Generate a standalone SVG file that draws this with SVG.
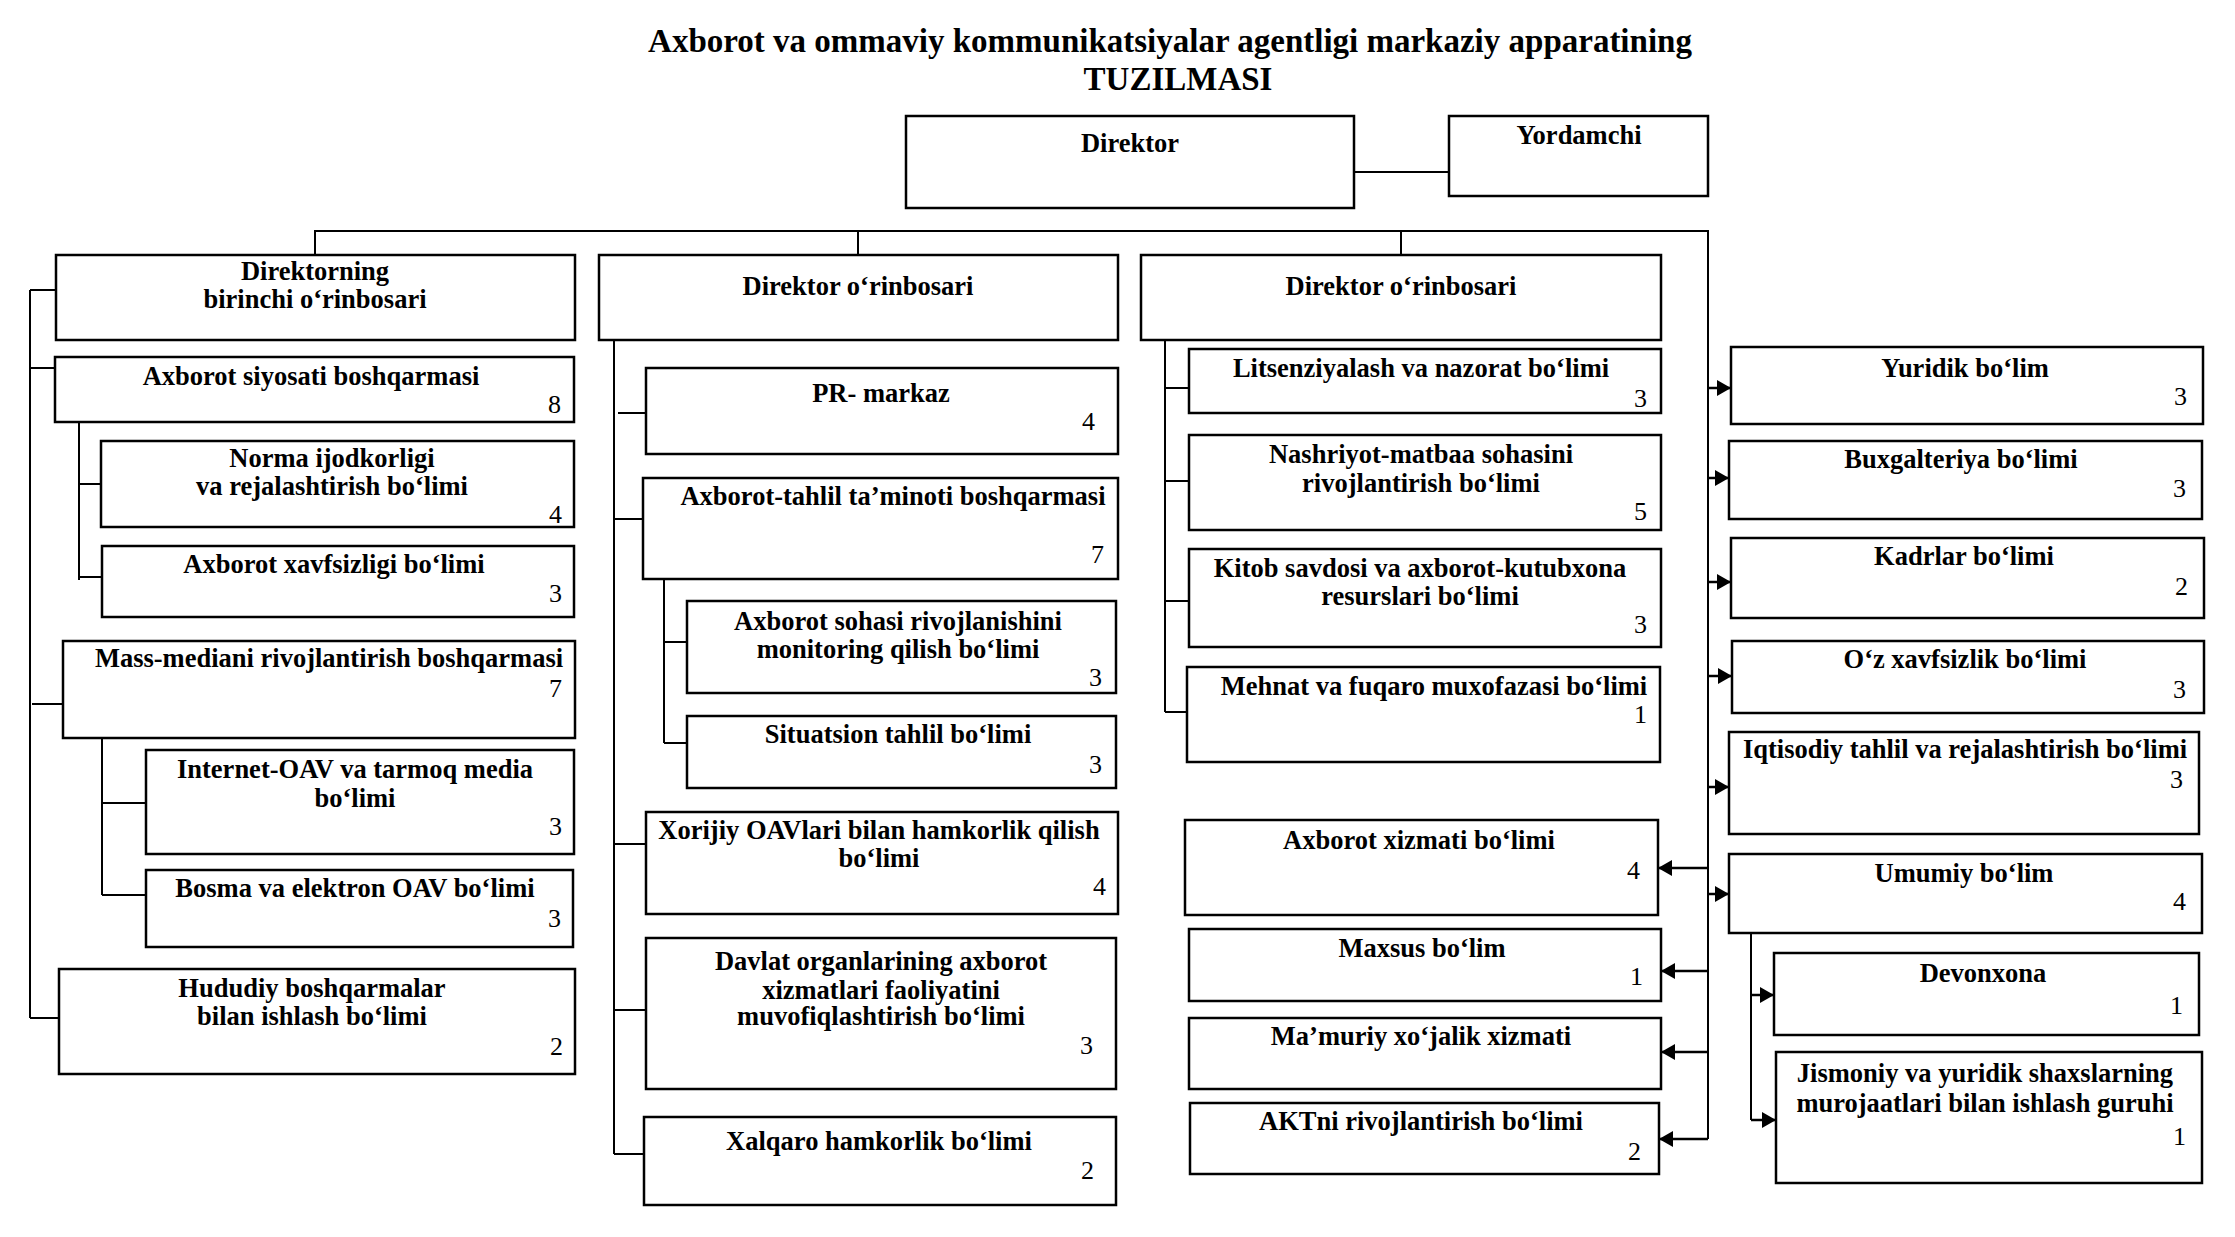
<svg xmlns="http://www.w3.org/2000/svg" width="2235" height="1237" viewBox="0 0 2235 1237">
<style>
  .bg{fill:#fff}
  .box{fill:#fff;stroke:#000;stroke-width:2.5}
  .t{font-family:"Liberation Serif","Times New Roman",serif;font-weight:bold;font-size:26.5px;text-anchor:middle;fill:#000}
  .n{font-family:"Liberation Serif","Times New Roman",serif;font-size:26px;text-anchor:end;fill:#000}
  .title{font-family:"Liberation Serif","Times New Roman",serif;font-weight:bold;font-size:33px;text-anchor:middle;fill:#000}
  .c{fill:none;stroke:#000;stroke-width:2}
  .a{fill:none;stroke:#000;stroke-width:2.5;marker-end:url(#ah)}
</style>
<defs>
  <marker id="ah" markerUnits="userSpaceOnUse" markerWidth="14" markerHeight="16" refX="14" refY="8" orient="auto">
    <path d="M0,0 L14,8 L0,16 Z" fill="#000"/>
  </marker>
</defs>
<rect class="bg" x="0" y="0" width="2235" height="1237"/>
<g id="title">
  <text class="title" x="1170" y="52">Axborot va ommaviy kommunikatsiyalar agentligi markaziy apparatining</text>
  <text class="title" x="1178" y="90">TUZILMASI</text>
</g>
<g id="connectors">
  <path class="c" d="M1354,172 H1449"/>
  <path class="c" d="M315,255 V231 H1708 V1139"/>
  <path class="c" d="M858,231 V255 M1401,231 V255"/>
  <path class="c" d="M30,290 V1018 M30,290 H56 M30,368 H55 M32,704 H63 M30,1018 H59"/>
  <path class="c" d="M79,422 V580 M79,484 H101 M79,577 H102"/>
  <path class="c" d="M102,738 V895 M102,803 H146 M102,895 H146"/>
  <path class="c" d="M614,340 V1154 M618,413 H646 M614,519 H643 M614,844 H646 M614,1010 H646 M614,1154 H644"/>
  <path class="c" d="M664,579 V743 M664,642 H687 M664,743 H687"/>
  <path class="c" d="M1165,340 V712 M1165,388 H1189 M1165,481 H1189 M1165,601 H1189 M1165,712 H1187"/>
  <path class="c" d="M1751,933 V1120"/>
  <path class="a" d="M1708,388 H1731"/>
  <path class="a" d="M1708,478 H1729"/>
  <path class="a" d="M1708,582 H1731"/>
  <path class="a" d="M1708,676 H1732"/>
  <path class="a" d="M1708,787 H1729"/>
  <path class="a" d="M1708,894 H1729"/>
  <path class="a" d="M1751,995 H1774"/>
  <path class="a" d="M1751,1120 H1776"/>
  <path class="a" d="M1708,868 H1658"/>
  <path class="a" d="M1708,971 H1661"/>
  <path class="a" d="M1708,1052 H1661"/>
  <path class="a" d="M1708,1139 H1659"/>
</g>
<g id="direktor"><rect class="box" x="906" y="116" width="448" height="92"/><text class="t" x="1130" y="152">Direktor</text></g>
<g id="yordamchi"><rect class="box" x="1449" y="116" width="259" height="80"/><text class="t" x="1579" y="144">Yordamchi</text></g>
<g id="dir-birinchi"><rect class="box" x="56" y="255" width="519" height="85"/><text class="t" x="315" y="280">Direktorning</text><text class="t" x="315" y="308">birinchi o‘rinbosari</text></g>
<g id="dir-orinbosari-1"><rect class="box" x="599" y="255" width="519" height="85"/><text class="t" x="858" y="295">Direktor o‘rinbosari</text></g>
<g id="dir-orinbosari-2"><rect class="box" x="1141" y="255" width="520" height="85"/><text class="t" x="1401" y="295">Direktor o‘rinbosari</text></g>

<g id="axborot-siyosati"><rect class="box" x="55" y="357" width="519" height="65"/><text class="t" x="311" y="385">Axborot siyosati boshqarmasi</text><text class="n" x="561" y="413">8</text></g>
<g id="norma"><rect class="box" x="101" y="441" width="473" height="86"/><text class="t" x="332" y="467">Norma ijodkorligi</text><text class="t" x="332" y="495">va rejalashtirish bo‘limi</text><text class="n" x="562" y="523">4</text></g>
<g id="axborot-xavfsizligi"><rect class="box" x="102" y="546" width="472" height="71"/><text class="t" x="334" y="573">Axborot xavfsizligi bo‘limi</text><text class="n" x="562" y="602">3</text></g>
<g id="mass-media"><rect class="box" x="63" y="641" width="512" height="97"/><text class="t" x="329" y="667">Mass-mediani rivojlantirish boshqarmasi</text><text class="n" x="562" y="697">7</text></g>
<g id="internet-oav"><rect class="box" x="146" y="750" width="428" height="104"/><text class="t" x="355" y="778">Internet-OAV va tarmoq media</text><text class="t" x="355" y="807">bo‘limi</text><text class="n" x="562" y="835">3</text></g>
<g id="bosma"><rect class="box" x="146" y="870" width="427" height="77"/><text class="t" x="355" y="897">Bosma va elektron OAV bo‘limi</text><text class="n" x="561" y="927">3</text></g>
<g id="hududiy"><rect class="box" x="59" y="969" width="516" height="105"/><text class="t" x="312" y="997">Hududiy boshqarmalar</text><text class="t" x="312" y="1025">bilan ishlash bo‘limi</text><text class="n" x="563" y="1055">2</text></g>

<g id="pr-markaz"><rect class="box" x="646" y="368" width="472" height="86"/><text class="t" x="881" y="402">PR- markaz</text><text class="n" x="1095" y="430">4</text></g>
<g id="axborot-tahlil"><rect class="box" x="643" y="478" width="475" height="101"/><text class="t" x="893" y="505">Axborot-tahlil ta’minoti boshqarmasi</text><text class="n" x="1104" y="563">7</text></g>
<g id="axborot-sohasi"><rect class="box" x="687" y="601" width="429" height="92"/><text class="t" x="898" y="630">Axborot sohasi rivojlanishini</text><text class="t" x="898" y="658">monitoring qilish bo‘limi</text><text class="n" x="1102" y="686">3</text></g>
<g id="situatsion"><rect class="box" x="687" y="716" width="429" height="72"/><text class="t" x="898" y="743">Situatsion tahlil bo‘limi</text><text class="n" x="1102" y="773">3</text></g>
<g id="xorijiy"><rect class="box" x="646" y="812" width="472" height="102"/><text class="t" x="879" y="839">Xorijiy OAVlari bilan hamkorlik qilish</text><text class="t" x="879" y="867">bo‘limi</text><text class="n" x="1106" y="895">4</text></g>
<g id="davlat"><rect class="box" x="646" y="938" width="470" height="151"/><text class="t" x="881" y="970">Davlat organlarining axborot</text><text class="t" x="881" y="999">xizmatlari faoliyatini</text><text class="t" x="881" y="1025">muvofiqlashtirish bo‘limi</text><text class="n" x="1093" y="1054">3</text></g>
<g id="xalqaro"><rect class="box" x="644" y="1117" width="472" height="88"/><text class="t" x="879" y="1150">Xalqaro hamkorlik bo‘limi</text><text class="n" x="1094" y="1179">2</text></g>

<g id="litsenziyalash"><rect class="box" x="1189" y="349" width="472" height="64"/><text class="t" x="1421" y="377">Litsenziyalash va nazorat bo‘limi</text><text class="n" x="1647" y="407">3</text></g>
<g id="nashriyot"><rect class="box" x="1189" y="435" width="472" height="95"/><text class="t" x="1421" y="463">Nashriyot-matbaa sohasini</text><text class="t" x="1421" y="492">rivojlantirish bo‘limi</text><text class="n" x="1647" y="520">5</text></g>
<g id="kitob"><rect class="box" x="1189" y="549" width="472" height="98"/><text class="t" x="1420" y="577">Kitob savdosi va axborot-kutubxona</text><text class="t" x="1420" y="605">resurslari bo‘limi</text><text class="n" x="1647" y="633">3</text></g>
<g id="mehnat"><rect class="box" x="1187" y="667" width="473" height="95"/><text class="t" x="1434" y="695">Mehnat va fuqaro muxofazasi bo‘limi</text><text class="n" x="1647" y="723">1</text></g>

<g id="axborot-xizmati"><rect class="box" x="1185" y="820" width="473" height="95"/><text class="t" x="1419" y="849">Axborot xizmati bo‘limi</text><text class="n" x="1640" y="879">4</text></g>
<g id="maxsus"><rect class="box" x="1189" y="929" width="472" height="72"/><text class="t" x="1422" y="957">Maxsus bo‘lim</text><text class="n" x="1643" y="985">1</text></g>
<g id="mamuriy"><rect class="box" x="1189" y="1018" width="472" height="71"/><text class="t" x="1421" y="1045">Ma’muriy xo‘jalik xizmati</text></g>
<g id="aktni"><rect class="box" x="1190" y="1103" width="469" height="71"/><text class="t" x="1421" y="1130">AKTni rivojlantirish bo‘limi</text><text class="n" x="1641" y="1160">2</text></g>

<g id="yuridik"><rect class="box" x="1731" y="347" width="472" height="77"/><text class="t" x="1965" y="377">Yuridik bo‘lim</text><text class="n" x="2187" y="405">3</text></g>
<g id="buxgalteriya"><rect class="box" x="1729" y="441" width="473" height="78"/><text class="t" x="1961" y="468">Buxgalteriya bo‘limi</text><text class="n" x="2186" y="497">3</text></g>
<g id="kadrlar"><rect class="box" x="1731" y="538" width="473" height="80"/><text class="t" x="1964" y="565">Kadrlar bo‘limi</text><text class="n" x="2188" y="595">2</text></g>
<g id="oz-xavfsizlik"><rect class="box" x="1732" y="641" width="472" height="72"/><text class="t" x="1965" y="668">O‘z xavfsizlik bo‘limi</text><text class="n" x="2186" y="698">3</text></g>
<g id="iqtisodiy"><rect class="box" x="1729" y="732" width="470" height="102"/><text class="t" x="1965" y="758">Iqtisodiy tahlil va rejalashtirish bo‘limi</text><text class="n" x="2183" y="788">3</text></g>
<g id="umumiy"><rect class="box" x="1729" y="854" width="473" height="79"/><text class="t" x="1964" y="882">Umumiy bo‘lim</text><text class="n" x="2186" y="910">4</text></g>
<g id="devonxona"><rect class="box" x="1774" y="953" width="425" height="82"/><text class="t" x="1983" y="982">Devonxona</text><text class="n" x="2183" y="1014">1</text></g>
<g id="jismoniy"><rect class="box" x="1776" y="1052" width="426" height="131"/><text class="t" x="1985" y="1082">Jismoniy va yuridik shaxslarning</text><text class="t" x="1985" y="1112">murojaatlari bilan ishlash guruhi</text><text class="n" x="2186" y="1145">1</text></g>
</svg>
